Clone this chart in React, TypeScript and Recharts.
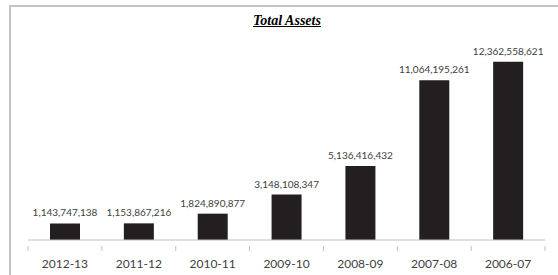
import { Bar, BarChart, LabelList, XAxis, YAxis } from 'recharts';

const years = ['2012-13', '2011-12', '2010-11', '2009-10', '2008-09', '2007-08', '2006-07'];
const totalAssets = [
  1143747138, 1153867216, 1824890877, 3148108347, 5136416432, 11064195261, 12362558621,
];

const data = years.map((year, i) => ({ year, value: totalAssets[i] }));

const BAR_COLOR = '#231f20';
const TEXT_COLOR = '#404040';
const AXIS_COLOR = '#bfbfbf';

type TickProps = {
  x?: number;
  y?: number;
  index?: number;
  payload?: { value: string; offset?: number };
};

function YearTick({ x = 0, y = 0, index = 0, payload }: TickProps) {
  const half = payload?.offset || 517 / 14;
  const last = index === years.length - 1;
  return (
    <g>
      <line x1={x - half} x2={x - half} y1={y} y2={y + 5} stroke={AXIS_COLOR} />
      {last && <line x1={x + half} x2={x + half} y1={y} y2={y + 5} stroke={AXIS_COLOR} />}
      <text
        x={x}
        y={y + 22}
        textAnchor='middle'
        fill={TEXT_COLOR}
        style={{ fontFamily: 'Lato', fontSize: 12 }}
      >
        {payload?.value}
      </text>
    </g>
  );
}

export default function App() {
  return (
    <div
      style={{
        position: 'absolute',
        left: 0,
        top: 0,
        width: 558,
        height: 275,
        background: '#fff',
        overflow: 'hidden',
      }}
    >
      <div
        style={{
          position: 'absolute',
          left: 9,
          top: 5,
          width: 600,
          height: 300,
          borderTop: '2px solid #c4c4c4',
          borderLeft: '2px solid #c4c4c4',
        }}
      />
      <div
        style={{
          position: 'absolute',
          left: 187,
          top: 13,
          width: 200,
          textAlign: 'center',
          fontFamily: '"Liberation Serif"',
          fontWeight: 'bold',
          fontStyle: 'italic',
          fontSize: 14,
          textDecoration: 'underline',
          color: '#000',
        }}
      >
        Total Assets
      </div>
      <div style={{ position: 'absolute', left: 0, top: 0 }}>
        <BarChart
          width={558}
          height={275}
          data={data}
          margin={{ top: 38, right: 13, left: 28, bottom: 5 }}
        >
          <XAxis
            dataKey='year'
            height={30}
            stroke={AXIS_COLOR}
            tickLine={false}
            tickMargin={0}
            interval={0}
            tick={<YearTick />}
          />
          <YAxis hide domain={[0, 14000000000]} />
          <Bar dataKey='value' fill={BAR_COLOR} barSize={30} isAnimationActive={false}>
            <LabelList
              dataKey='value'
              position='top'
              offset={7}
              fill={TEXT_COLOR}
              style={{ fontFamily: 'Lato', fontSize: 10 }}
              formatter={(v: unknown) => Number(v).toLocaleString('en-US')}
            />
          </Bar>
        </BarChart>
      </div>
    </div>
  );
}
